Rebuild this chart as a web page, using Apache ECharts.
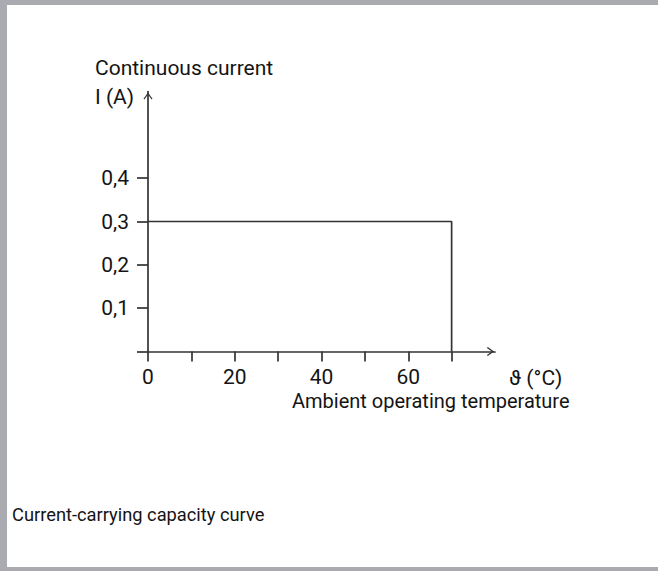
<!DOCTYPE html>
<html>
<head>
<meta charset="utf-8">
<script src="https://cdn.jsdelivr.net/npm/echarts@6/dist/echarts.min.js"></script>
<style>
html,body{margin:0;padding:0;background:#fff;}
#c{width:658px;height:571px;}
</style>
</head>
<body>
<div id="c"></div>
<script>
// ---- data ----
var curveX = [0, 70, 70];
var curveY = [0.3, 0.3, 0];
var xTickValues = [0, 10, 20, 30, 40, 50, 60, 70];
var xLabelValues = [0, 20, 40, 60];
var yTickValues = [0, 0.1, 0.2, 0.3, 0.4];
var yLabelValues = ['0,1', '0,2', '0,3', '0,4'];
var yTitle = 'Continuous current\nI (A)';
var xUnit = 'ϑ (°C)';
var xTitle = 'Ambient operating temperature';
var caption = 'Current-carrying capacity curve';

var FONT = 'Roboto, "DejaVu Sans Condensed", sans-serif';
var AX = '#333333';
var TXT = '#141414';

var curve = curveX.map(function (x, i) { return [x, curveY[i]]; });

var chart = echarts.init(document.getElementById('c'), null, {renderer: 'svg'});
var arrow = 'path://M5,0 L10,7 L9,8 L5,2.4 L1,8 L0,7 Z';

chart.setOption({
  backgroundColor: '#fff',
  animation: false,
  title: [
    {text: yTitle, left: 95, top: 53, padding: 0, textStyle: {fontFamily: FONT, fontSize: 21, fontWeight: 'normal', color: TXT, lineHeight: 29}},
    {text: xUnit, left: 509, top: 367, padding: 0, textStyle: {fontFamily: FONT, fontSize: 21, fontWeight: 'normal', color: TXT}},
    {text: xTitle, left: 292, top: 391, padding: 0, textStyle: {fontFamily: FONT, fontSize: 20, fontWeight: 'normal', color: TXT}},
    {text: caption, left: 12, top: 505, padding: 0, textStyle: {fontFamily: 'Roboto, sans-serif', fontSize: 18.3, fontWeight: 'normal', color: TXT}}
  ],
  graphic: [
    {type: 'rect', shape: {x: 0, y: 0, width: 658, height: 5}, style: {fill: '#a9abb0'}},
    {type: 'rect', shape: {x: 0, y: 0, width: 7, height: 571}, style: {fill: '#a9abb0'}},
    {type: 'rect', shape: {x: 0, y: 567, width: 658, height: 4}, style: {fill: '#a9abb0'}}
  ],
  grid: [
    {left: 148, top: 91.5, width: 347, height: 260, containLabel: false},
    {left: 148, top: 351.5 - 260 * 0.4 / 0.6, width: 347 * 70 / 80, height: 260 * 0.4 / 0.6, containLabel: false}
  ],
  xAxis: [
    {type: 'value', gridIndex: 0, min: 0, max: 80, interval: 10,
     axisLine: {show: true, symbol: ['none', arrow], symbolSize: [9, 9], symbolOffset: [0, -4.5], lineStyle: {color: AX, width: 1.7}},
     axisTick: {show: false}, axisLabel: {show: false}, splitLine: {show: false}},
    {type: 'value', gridIndex: 1, min: 0, max: 70, interval: 10,
     axisLine: {show: false},
     axisTick: {show: true, length: 10, lineStyle: {color: AX, width: 1.7}},
     axisLabel: {show: true, margin: 15, fontFamily: FONT, fontSize: 21, color: TXT,
       formatter: function (v) { return xLabelValues.indexOf(v) >= 0 ? String(v) : ''; }},
     splitLine: {show: false}}
  ],
  yAxis: [
    {type: 'value', gridIndex: 0, min: 0, max: 0.6, interval: 0.1,
     axisLine: {show: true, symbol: ['none', arrow], symbolSize: [9, 9], symbolOffset: [0, -4.5], lineStyle: {color: AX, width: 1.7}},
     axisTick: {show: false}, axisLabel: {show: false}, splitLine: {show: false}},
    {type: 'value', gridIndex: 1, min: 0, max: 0.4, interval: 0.1,
     axisLine: {show: false},
     axisTick: {show: true, length: 11, lineStyle: {color: AX, width: 1.7}},
     axisLabel: {show: true, margin: 19, fontFamily: FONT, fontSize: 21, color: TXT,
       formatter: function (v) {
         var i = yTickValues.findIndex(function (t) { return Math.abs(t - v) < 1e-9; });
         return i > 0 ? yLabelValues[i - 1] : '';
       }},
     splitLine: {show: false}}
  ],
  series: [
    {type: 'line', xAxisIndex: 0, yAxisIndex: 0, data: curve, symbol: 'none',
     lineStyle: {color: '#333', width: 1.7}, silent: true}
  ]
});
</script>
</body>
</html>
